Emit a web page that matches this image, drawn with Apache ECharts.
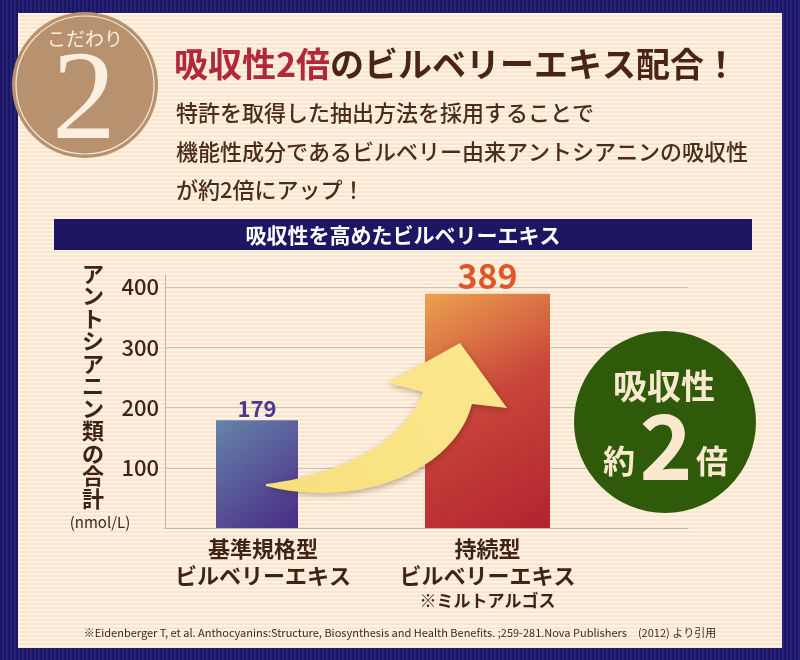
<!DOCTYPE html>
<html><head><meta charset="utf-8">
<script src="https://cdn.jsdelivr.net/npm/echarts@6/dist/echarts.min.js"></script>
<style>
html,body{margin:0;padding:0;background:#1b1660;}
#wrap{position:relative;width:800px;height:660px;background:repeating-linear-gradient(90deg,#1b1660 0px,#1b1660 2px,#272178 2px,#272178 4px);overflow:hidden;}
#panel{position:absolute;left:18px;top:13px;width:764px;height:635px;background:repeating-linear-gradient(180deg,#fdf3e4 0px,#fdf3e4 2px,#fbe6cd 2px,#fbe6cd 4px);}
#chart{position:absolute;left:0;top:0;width:800px;height:660px;}
</style></head><body>
<div id="wrap"><div id="panel"></div><div id="chart"></div></div>
<script>
// ---- data ----
const categories = ['基準規格型\nビルベリーエキス', '持続型\nビルベリーエキス'];
const subNotes = ['', '※ミルトアルゴス'];
const values = [179, 389];
const yTicks = [100, 200, 300, 400];
const yAxisName = 'アントシアニン類の合計';
const unitText = '(nmol/L)';
const bannerText = '吸収性を高めたビルベリーエキス';
const titleRed = '吸収性2倍';
const titleRest = 'のビルベリーエキス配合！';
const bodyLines = ['特許を取得した抽出方法を採用することで', '機能性成分であるビルベリー由来アントシアニンの吸収性', 'が約2倍にアップ！'];
const footnote = '※Eidenberger T, et al. Anthocyanins:Structure, Biosynthesis and Health Benefits. ;259-281.Nova Publishers　(2012) より引用';

// ---- layout / style ----
const JP = "'Noto Sans CJK JP','Noto Sans',sans-serif";
const BROWN = '#3f2415';
const AX = {top: 275, bottom: 132, min: 0, max: 420};
const barLeft = [216, 425];
const barPx = [82, 125];
const barGrad = [
  [['0', '#6584ab'], ['1', '#4a2b85']],
  [['0', '#eca24f'], ['0.45', '#c9463a'], ['1', '#b2232f']]
];
const labelStyle = [
  {fontSize: 22, color: '#4b3790'},
  {fontSize: 34, color: '#e0562b'}
];

function bez(p0, p1, p2, p3, n) {
  const pts = [];
  for (let k = 0; k <= n; k++) {
    const t = k / n, u = 1 - t;
    pts.push([
      u*u*u*p0[0] + 3*u*u*t*p1[0] + 3*u*t*t*p2[0] + t*t*t*p3[0],
      u*u*u*p0[1] + 3*u*u*t*p1[1] + 3*u*t*t*p2[1] + t*t*t*p3[1]
    ]);
  }
  return pts;
}
const arrowPts = [].concat(
  bez([266,484],[330,476],[400,450],[423,392],24),
  [[388,383],[460,343],[507,408]],
  bez([472,404],[455,470],[360,510],[266,486],24)
);

const chart = echarts.init(document.getElementById('chart'), null, {renderer: 'canvas'});

const grids = [{left: 165, right: 112, top: AX.top, bottom: AX.bottom}];
const xAxes = [{gridIndex: 0, type: 'category', data: [''], axisLine: {lineStyle: {color: '#bdb5ad'}}, axisTick: {show: false}, axisLabel: {show: false}}];
const yAxes = [{
  gridIndex: 0, type: 'value', min: AX.min, max: AX.max, interval: 100,
  axisLine: {show: true, lineStyle: {color: '#bdb5ad'}}, axisTick: {show: false},
  axisLabel: {showMaxLabel: false, margin: 6, fontSize: 22, color: BROWN, fontFamily: JP, fontWeight: 500,
    formatter: v => yTicks.indexOf(v) >= 0 ? String(v) : ''},
  splitLine: {show: true, showMaxLine: false, lineStyle: {color: '#c9c1b8'}}
}];
const series = [];
categories.forEach((c, i) => {
  grids.push({left: barLeft[i], width: barPx[i], top: AX.top, bottom: AX.bottom});
  xAxes.push({
    gridIndex: i + 1, type: 'category', data: [c],
    axisLine: {show: false}, axisTick: {show: false},
    axisLabel: {
      interval: 0, margin: 7, padding: i === 0 ? [0, 0, 0, 12] : 0,
      formatter: v => v.split('\n').map(s => '{m|' + s + '}').join('\n') + (subNotes[i] ? '\n{s|' + subNotes[i] + '}' : ''),
      rich: {
        m: {fontSize: 22, fontWeight: 'bold', color: BROWN, fontFamily: JP, lineHeight: 27},
        s: {fontSize: 17, fontWeight: 'bold', color: BROWN, fontFamily: JP, lineHeight: 24}
      }
    }
  });
  yAxes.push({gridIndex: i + 1, type: 'value', min: AX.min, max: AX.max, show: false});
  series.push({
    type: 'bar', xAxisIndex: i + 1, yAxisIndex: i + 1, barWidth: barPx[i],
    data: [values[i]],
    itemStyle: {color: new echarts.graphic.LinearGradient(0, 0, 1, 1, barGrad[i].map(g => ({offset: +g[0], color: g[1]})))},
    label: {show: true, position: 'top', distance: 1, fontWeight: 'bold', fontFamily: JP,
      fontSize: labelStyle[i].fontSize, color: labelStyle[i].color},
    silent: true
  });
});

const CREAM = '#fbe9cf';
const graphic = [
  // badge
  {type: 'circle', shape: {cx: 85, cy: 85, r: 73}, style: {fill: '#b8916e'}, z: 1},
  {type: 'circle', shape: {cx: 85, cy: 85, r: 69}, style: {fill: 'none', stroke: '#f6e8d6', lineWidth: 1.2}, z: 1},
  {type: 'text', style: {text: 'こだわり', x: 85, y: 39, font: "19px 'Noto Sans CJK JP'", fill: '#fbefe0', textAlign: 'center', textVerticalAlign: 'middle'}, z: 2},
  {type: 'text', style: {text: '2', x: 84, y: 104, font: "128px 'Liberation Serif','DejaVu Serif',serif", fill: '#fbefe0', textAlign: 'center', textVerticalAlign: 'middle'}, z: 2},
  // title
  {type: 'text', style: {
    text: '{r|' + titleRed + '}{b|' + titleRest + '}', x: 174, y: 64, textVerticalAlign: 'middle',
    rich: {r: {fontSize: 34, fontWeight: 'bold', fill: '#b0283a', fontFamily: JP},
           b: {fontSize: 34, fontWeight: 'bold', fill: '#4a2514', fontFamily: JP}}
  }, z: 2},
  // body
  ...bodyLines.map((t, k) => ({type: 'text', style: {text: t, x: 176, y: 113 + k * 38.5, font: "500 22px " + JP, fill: '#4a2c1a', textVerticalAlign: 'middle'}, z: 2})),
  // banner
  {type: 'rect', shape: {x: 54, y: 219, width: 698, height: 31}, style: {fill: '#1e1663'}, z: 1},
  {type: 'text', style: {text: bannerText, x: 403, y: 235, font: "bold 21px " + JP, fill: '#ffffff', textAlign: 'center', textVerticalAlign: 'middle'}, z: 2},
  // y axis name
  {type: 'text', style: {text: yAxisName.split('').join('\n'), x: 93, y: 386, font: "bold 22px " + JP, lineHeight: 22.5, fill: BROWN, textAlign: 'center', textVerticalAlign: 'middle'}, z: 2},
  {type: 'text', style: {text: unitText, x: 100, y: 522, font: "15px " + JP, fill: BROWN, textAlign: 'center', textVerticalAlign: 'middle'}, z: 2},
  // arrow
  {type: 'polygon', shape: {points: arrowPts}, style: {
    fill: new echarts.graphic.LinearGradient(0, 1, 1, 0, [{offset: 0, color: '#f8df7c'}, {offset: 1, color: '#fde88f'}]),
    shadowBlur: 6, shadowColor: 'rgba(60,30,0,0.35)', shadowOffsetX: 1, shadowOffsetY: 2}, z: 50},
  // green circle
  {type: 'circle', shape: {cx: 665, cy: 422, r: 91}, style: {fill: '#2e5a09'}, z: 1},
  {type: 'text', style: {text: '吸収性', x: 664, y: 386, font: "bold 34px " + JP, fill: CREAM, textAlign: 'center', textVerticalAlign: 'middle'}, z: 2},
  {type: 'text', style: {text: '約', x: 619, y: 461, font: "bold 32px " + JP, fill: CREAM, textAlign: 'center', textVerticalAlign: 'middle'}, z: 2},
  {type: 'text', style: {text: '2', x: 666, y: 446, font: "bold 90px " + JP, fill: CREAM, textAlign: 'center', textVerticalAlign: 'middle'}, z: 2},
  {type: 'text', style: {text: '倍', x: 712, y: 461, font: "bold 32px " + JP, fill: CREAM, textAlign: 'center', textVerticalAlign: 'middle'}, z: 2},
  // footnote
  {type: 'text', style: {text: footnote, x: 400, y: 633, font: "11px 'Liberation Sans Narrow','Noto Sans CJK JP',sans-serif", fill: '#3d2a1e', textAlign: 'center', textVerticalAlign: 'middle'}, z: 2}
];

chart.setOption({
  backgroundColor: 'transparent',
  animation: false,
  grid: grids,
  xAxis: xAxes,
  yAxis: yAxes,
  series: series,
  graphic: graphic
});
</script>
</body></html>
